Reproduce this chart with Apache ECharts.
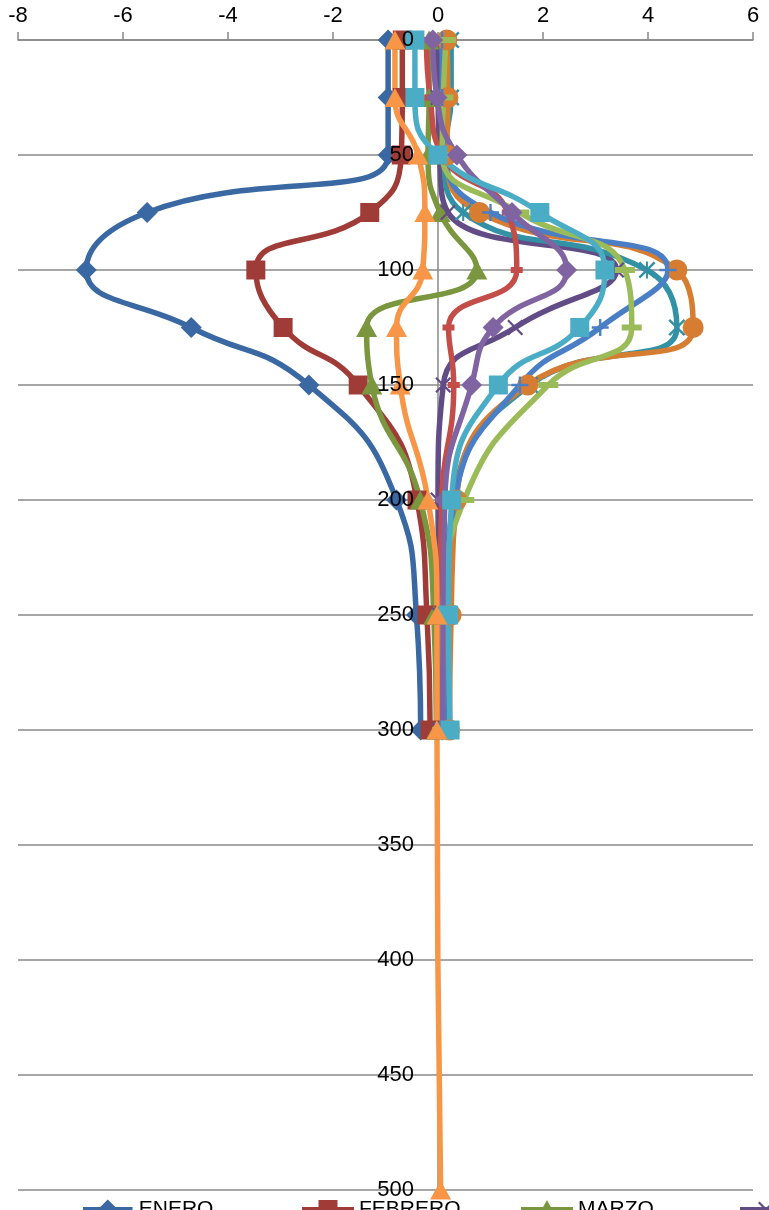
<!DOCTYPE html>
<html>
<head>
<meta charset="utf-8">
<script src="https://cdn.jsdelivr.net/npm/echarts@6/dist/echarts.min.js"></script>
<style>
html,body{margin:0;padding:0;background:#fff;}
#chart{width:769px;height:1210px;}
</style>
</head>
<body>
<div id="chart"></div>
<script>
// Depths (y axis, m)
const depths = [0, 25, 50, 75, 100, 125, 150, 200, 250, 300];
const depthsDic = [0, 25, 50, 75, 100, 125, 150, 200, 250, 300, 500];
const xTicks = [-8, -6, -4, -2, 0, 2, 4, 6];
const months = ['ENERO','FEBRERO','MARZO','ABRIL','MAYO','JUNIO','JULIO','AGOSTO','SEPTIEMBRE','OCTUBRE','NOVIEMBRE','DICIEMBRE'];

// Values per month (x axis)
const enero      = [-0.95, -0.95, -0.95, -5.54, -6.70, -4.70, -2.46, -0.79, -0.41, -0.33];
const febrero    = [-0.68, -0.68, -0.70, -1.30, -3.47, -2.95, -1.52, -0.40, -0.21, -0.15];
const marzo      = [-0.17, -0.17, -0.19, 0.04, 0.74, -1.36, -1.26, -0.34, -0.08, -0.03];
const abril      = [-0.02, 0.00, 0.03, 0.19, 3.40, 1.47, 0.10, 0.00, 0.03, 0.03];
const mayo       = [0.25, 0.25, 0.12, 0.48, 3.98, 4.55, 1.75, 0.30, 0.15, 0.15];
const junio      = [0.17, 0.19, 0.17, 0.79, 4.55, 4.86, 1.71, 0.35, 0.25, 0.22];
const julio      = [0.08, 0.08, 0.12, 1.00, 4.38, 3.09, 1.56, 0.32, 0.15, 0.12];
const agosto     = [-0.22, -0.15, 0.08, 1.33, 1.50, 0.20, 0.30, 0.07, 0.04, 0.04];
const septiembre = [0.15, 0.10, 0.08, 1.55, 3.56, 3.69, 2.10, 0.50, 0.10, 0.08];
const octubre    = [-0.10, -0.02, 0.36, 1.41, 2.45, 1.05, 0.64, 0.13, 0.10, 0.08];
const noviembre  = [-0.44, -0.44, 0.00, 1.94, 3.18, 2.70, 1.15, 0.26, 0.20, 0.23];
const diciembre  = [-0.82, -0.82, -0.38, -0.25, -0.29, -0.79, -0.72, -0.19, -0.02, -0.02, 0.05];

const values = [enero, febrero, marzo, abril, mayo, junio, julio, agosto, septiembre, octubre, noviembre, diciembre];
const colors = ['#3A68A2','#A03C38','#7A963E','#624C86','#3291A5','#D77D32','#4A7EC5','#C24D49','#9BBB59','#8064A2','#4BACC6','#F79646'];

// marker shapes as polygons in a 10x10 box
const SHAPES = {
  x:    [[[0,1],[1,0],[5,4],[9,0],[10,1],[6,5],[10,9],[9,10],[5,6],[1,10],[0,9],[4,5]]],
  ast:  [[[0,1],[1,0],[5,4],[9,0],[10,1],[6,5],[10,9],[9,10],[5,6],[1,10],[0,9],[4,5]], [[4.4,0],[5.6,0],[5.6,10],[4.4,10]]],
  plus: [[[4.3,0],[5.7,0],[5.7,4.3],[10,4.3],[10,5.7],[5.7,5.7],[5.7,10],[4.3,10],[4.3,5.7],[0,5.7],[0,4.3],[4.3,4.3]]],
  dash: [[[0,3.5],[10,3.5],[10,6.5],[0,6.5]]],
  diamond: [[[5,0],[10,5],[5,10],[0,5]]],
  rect: [[[0,0],[10,0],[10,10],[0,10]]],
  triangle: [[[5,0],[10,10],[0,10]]],
  circle: [Array.from({length: 24}, (_, k) => [5 + 5 * Math.cos(k * Math.PI / 12), 5 + 5 * Math.sin(k * Math.PI / 12)])]
};
function clockwise(poly) {
  let a = 0;
  for (let k = 0; k < poly.length; k++) { const p = poly[k], q = poly[(k + 1) % poly.length]; a += p[0] * q[1] - q[0] * p[1]; }
  return a >= 0 ? poly : poly.slice().reverse();
}
function polyPath(polys, ox, oy, sx, sy) {
  return polys.map(poly => clockwise(poly).map((p, k) => (k ? 'L' : 'M') + (ox + p[0] * sx).toFixed(2) + ',' + (oy + p[1] * sy).toFixed(2)).join(' ') + ' Z').join(' ');
}
const markerKinds = ['diamond','rect','triangle','x','ast','circle','plus','dash','dash','diamond','rect','triangle'];
const markerSize = [[21,21],[19,19],[21,19],[16,16],[17,17],[21,21],[17,17],[12,20],[20,20],[21,21],[19,19],[21,19]];

const FONT = 'Liberation Sans';

function chartSymbol(i) {
  const k = markerKinds[i];
  if (k === 'x' || k === 'ast' || k === 'plus' || k === 'dash') return 'path://' + polyPath(SHAPES[k], 0, 0, 1, 1);
  return k === 'rect' ? 'rect' : k;
}
function chartSymbolSize(i) {
  const k = markerKinds[i];
  if (k === 'dash') return [markerSize[i][0], 6];
  return markerSize[i];
}
// legend icon: thick line with the marker in its middle (52 x 20 box)
function legendIcon(i) {
  const k = markerKinds[i];
  const [w, h] = k === 'dash' ? [markerSize[i][0], 20] : markerSize[i];
  const bar = 'M0,7.5 L52,7.5 L52,12.5 L0,12.5 Z';
  const mk = polyPath(SHAPES[k], 26 - w / 2, 10 - h / 2, w / 10, h / 10);
  const frame = ' M0,0 L0.01,0 L0.01,0.01 Z M51.99,19.99 L52,19.99 L52,20 Z';
  return 'path://' + bar + ' ' + mk + frame;
}

const series = months.map((m, i) => {
  const ys = (i === 11) ? depthsDic : depths;
  return {
    name: m,
    type: 'line',
    smooth: 0.5,
    data: values[i].map((v, k) => [v, ys[k]]),
    symbol: chartSymbol(i),
    symbolSize: chartSymbolSize(i),
    showSymbol: true,
    lineStyle: { width: 5.5, color: colors[i] },
    itemStyle: { color: colors[i], borderWidth: 0 },
    emphasis: { disabled: true }
  };
});

// one legend box per month, laid out in fixed-width columns like the original
const legends = months.map((m, i) => ({
  data: [{ name: m, icon: legendIcon(i) }],
  left: 78 + 219 * (i % 4),
  top: 1194 + 40 * Math.floor(i / 4),
  itemWidth: 52, itemHeight: 20,
  textStyle: { fontSize: 21, color: '#000', fontFamily: FONT }
}));

const chart = echarts.init(document.getElementById('chart'), null, { renderer: 'canvas' });
chart.setOption({
  animation: false,
  backgroundColor: '#fff',
  grid: { left: 18, right: 16, top: 40, bottom: 20 },
  xAxis: {
    type: 'value', position: 'top', min: xTicks[0], max: xTicks[xTicks.length - 1], interval: 2,
    axisLine: { onZero: false, lineStyle: { color: '#888', width: 1.5 } },
    axisTick: { show: true, length: 8, lineStyle: { color: '#888', width: 1.5 } },
    axisLabel: { color: '#000', fontSize: 22, fontFamily: FONT, margin: 13 },
    splitLine: { show: false }
  },
  yAxis: [{
    type: 'value', inverse: true, min: 0, max: 500, interval: 50, position: 'left', offset: -420,
    axisLine: { show: true, onZero: false, lineStyle: { color: '#888', width: 1.5 } },
    axisTick: { show: false },
    axisLabel: { show: false },
    splitLine: { show: true, lineStyle: { color: '#888', width: 1.5 } }
  }, {
    type: 'value', inverse: true, min: 0, max: 500, interval: 50, position: 'left', offset: -420,
    z: 5,
    axisLine: { show: false, onZero: false },
    axisTick: { show: false },
    axisLabel: { color: '#000', fontSize: 22, fontFamily: FONT, margin: 24 },
    splitLine: { show: false }
  }],
  legend: legends,
  series: series
});
</script>
</body>
</html>
